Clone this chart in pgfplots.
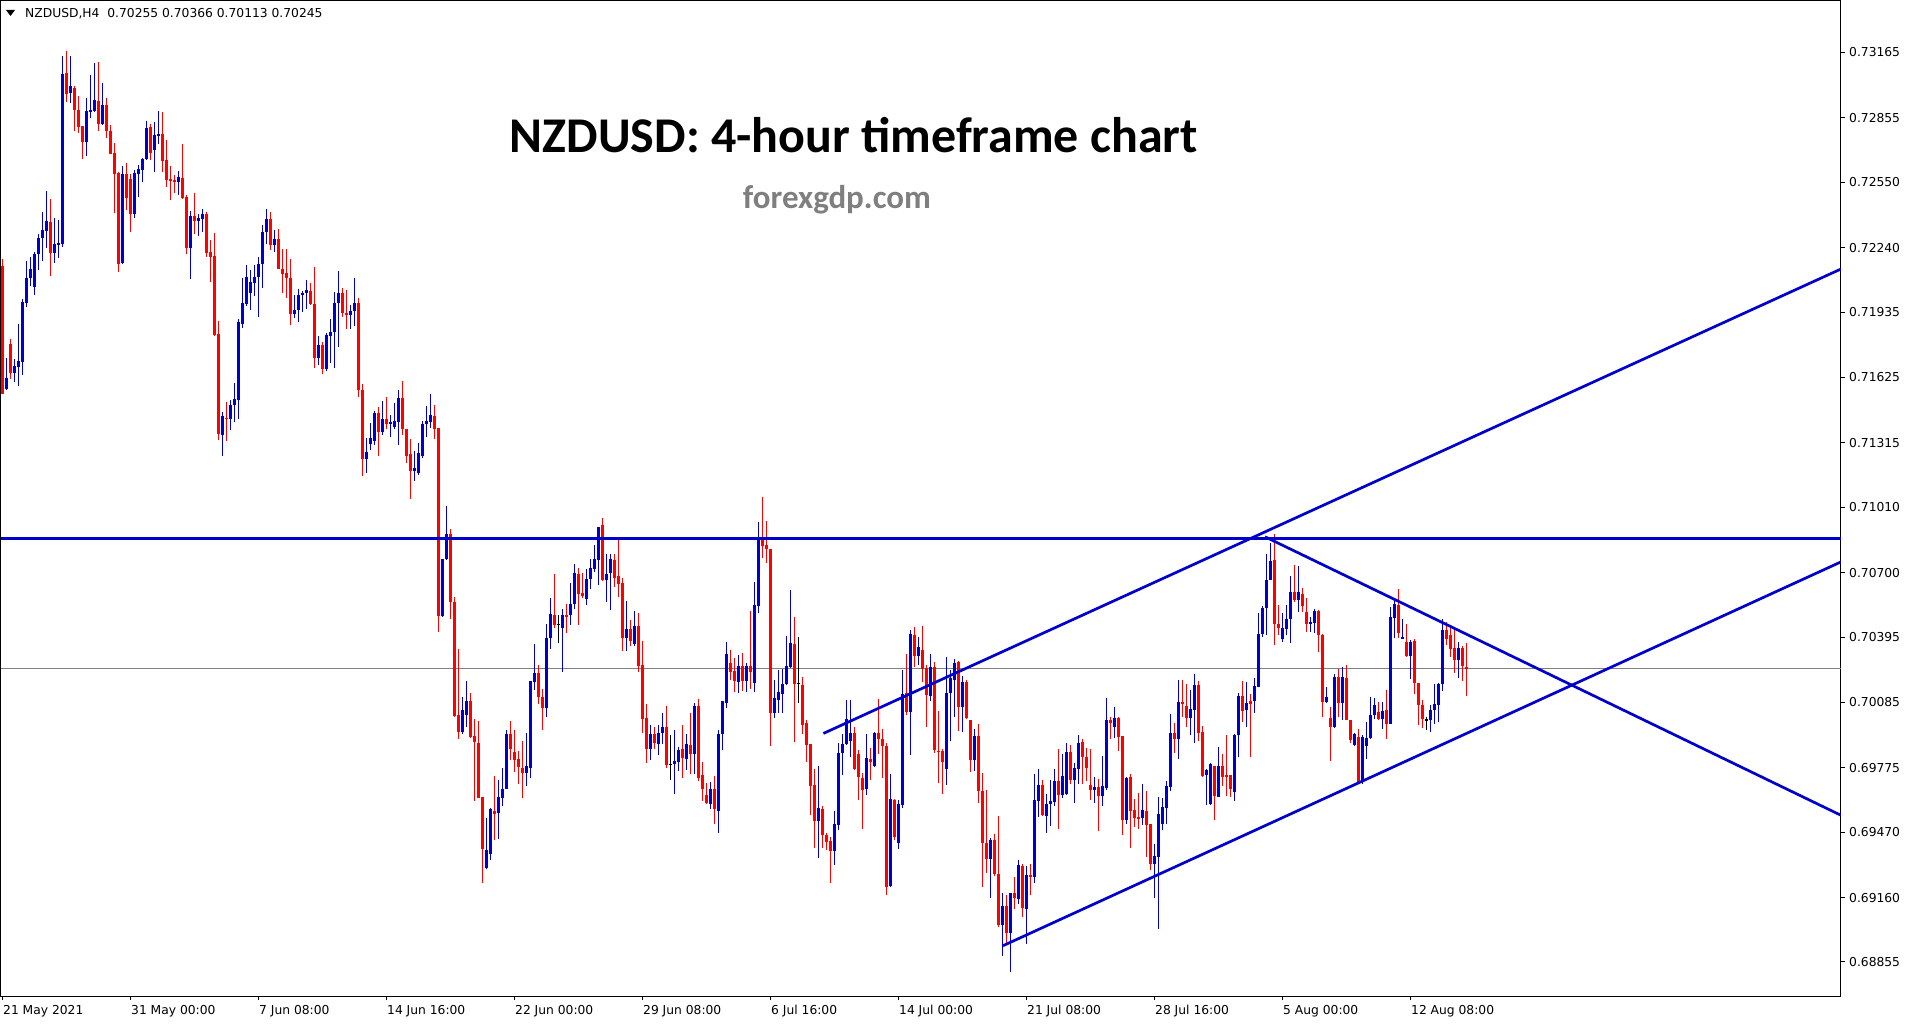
\documentclass[border=0pt]{standalone}
\usepackage{fontspec}
\usepackage{pgfplots}
\usepackage{pgfplotstable}
\pgfplotsset{compat=1.18}
\setmainfont{DejaVu Sans}
\newfontfamily\carlito{Carlito}
\definecolor{mtblue}{RGB}{0,0,205}
\definecolor{mtred}{RGB}{255,0,0}
\definecolor{bidgray}{RGB}{128,128,128}
\definecolor{sitegray}{RGB}{127,127,127}
\newcommand\lbl{\fontsize{12.3}{14}\selectfont}

% H4 candles: index, open, high, low, close
\pgfplotstableread{
k o h l c
0 0.72153 0.72189 0.71546 0.71549
1 0.71571 0.71715 0.71565 0.71625
2 0.71783 0.71807 0.71617 0.71647
3 0.71647 0.71712 0.71605 0.71679
4 0.71676 0.71881 0.71586 0.71703
5 0.71699 0.71996 0.71636 0.71984
6 0.71979 0.72178 0.71960 0.72099
7 0.72099 0.72194 0.72060 0.72142
8 0.72055 0.72218 0.72015 0.72210
9 0.72210 0.72304 0.72134 0.72286
10 0.72286 0.72409 0.72178 0.72323
11 0.72320 0.72508 0.72237 0.72366
12 0.72361 0.72470 0.72105 0.72216
13 0.72216 0.72380 0.72169 0.72257
14 0.72254 0.72371 0.72192 0.72263
15 0.72260 0.73148 0.72244 0.73066
16 0.73066 0.73172 0.72932 0.72971
17 0.72974 0.73148 0.72927 0.73006
18 0.73000 0.73008 0.72794 0.72895
19 0.72895 0.72959 0.72785 0.72813
20 0.72816 0.72818 0.72662 0.72742
21 0.72742 0.72948 0.72674 0.72887
22 0.72884 0.73058 0.72856 0.72892
23 0.72887 0.73117 0.72883 0.72940
24 0.72935 0.73120 0.72794 0.72829
25 0.72829 0.73022 0.72821 0.72916
26 0.72916 0.72952 0.72761 0.72794
27 0.72793 0.72821 0.72683 0.72685
28 0.72687 0.72737 0.72402 0.72590
29 0.72595 0.72600 0.72126 0.72165
30 0.72169 0.72627 0.72166 0.72589
31 0.72589 0.72641 0.72418 0.72477
32 0.72565 0.72592 0.72316 0.72401
33 0.72401 0.72608 0.72379 0.72594
34 0.72589 0.72632 0.72481 0.72613
35 0.72609 0.72665 0.72553 0.72663
36 0.72660 0.72842 0.72655 0.72810
37 0.72810 0.72826 0.72655 0.72690
38 0.72703 0.72837 0.72600 0.72774
39 0.72769 0.72887 0.72733 0.72778
40 0.72778 0.72884 0.72597 0.72652
41 0.72655 0.72750 0.72529 0.72560
42 0.72565 0.72627 0.72466 0.72556
43 0.72560 0.72584 0.72500 0.72553
44 0.72553 0.72605 0.72489 0.72575
45 0.72570 0.72731 0.72472 0.72477
46 0.72481 0.72489 0.72213 0.72238
47 0.72238 0.72413 0.72091 0.72391
48 0.72390 0.72500 0.72308 0.72366
49 0.72366 0.72402 0.72295 0.72382
50 0.72376 0.72423 0.72314 0.72401
51 0.72401 0.72410 0.72197 0.72216
52 0.72219 0.72276 0.72079 0.72197
53 0.72200 0.72311 0.71823 0.71826
54 0.71830 0.71892 0.71328 0.71356
55 0.71355 0.71461 0.71255 0.71442
56 0.71435 0.71507 0.71326 0.71429
57 0.71429 0.71516 0.71374 0.71496
58 0.71496 0.71598 0.71414 0.71522
59 0.71518 0.71903 0.71431 0.71888
60 0.71881 0.72095 0.71860 0.71977
61 0.71973 0.72158 0.71964 0.72103
62 0.72027 0.72138 0.71947 0.72077
63 0.72073 0.72160 0.72012 0.72103
64 0.72103 0.72197 0.71914 0.72164
65 0.72164 0.72349 0.72051 0.72314
66 0.72314 0.72425 0.72260 0.72378
67 0.72378 0.72412 0.72230 0.72256
68 0.72256 0.72327 0.72219 0.72284
69 0.72284 0.72327 0.72138 0.72142
70 0.72142 0.72236 0.72029 0.72116
71 0.72121 0.72236 0.72001 0.72095
72 0.72095 0.72186 0.71875 0.71925
73 0.71925 0.72016 0.71907 0.71947
74 0.71947 0.72042 0.71886 0.72016
75 0.72016 0.72038 0.71936 0.72029
76 0.72027 0.72088 0.71951 0.72040
77 0.72034 0.72073 0.71968 0.71973
78 0.71973 0.72147 0.71668 0.71718
79 0.71718 0.71820 0.71686 0.71779
80 0.71779 0.71794 0.71642 0.71664
81 0.71664 0.71834 0.71657 0.71827
82 0.71823 0.71903 0.71692 0.71844
83 0.71842 0.72034 0.71670 0.71981
84 0.71981 0.72129 0.71768 0.72027
85 0.72027 0.72049 0.71914 0.71931
86 0.71931 0.72040 0.71855 0.71921
87 0.71921 0.71968 0.71855 0.71942
88 0.71940 0.72099 0.71870 0.71977
89 0.71977 0.72001 0.71533 0.71566
90 0.71566 0.71594 0.71159 0.71239
91 0.71239 0.71337 0.71172 0.71272
92 0.71311 0.71409 0.71283 0.71337
93 0.71326 0.71468 0.71305 0.71457
94 0.71457 0.71485 0.71255 0.71366
95 0.71366 0.71516 0.71355 0.71429
96 0.71429 0.71533 0.71381 0.71403
97 0.71403 0.71446 0.71342 0.71414
98 0.71392 0.71507 0.71381 0.71420
99 0.71414 0.71566 0.71305 0.71527
100 0.71527 0.71607 0.71355 0.71381
101 0.71381 0.71381 0.71222 0.71255
102 0.71261 0.71333 0.71048 0.71185
103 0.71180 0.71276 0.71137 0.71194
104 0.71172 0.71316 0.71163 0.71268
105 0.71255 0.71420 0.71246 0.71403
106 0.71403 0.71490 0.71342 0.71418
107 0.71414 0.71548 0.71385 0.71446
108 0.71442 0.71494 0.71333 0.71381
109 0.71385 0.71385 0.70419 0.70497
110 0.70497 0.70767 0.70489 0.70767
111 0.70767 0.71015 0.70761 0.70885
112 0.70885 0.70909 0.70482 0.70563
113 0.70563 0.70584 0.70014 0.70021
114 0.70027 0.70341 0.69912 0.69945
115 0.69946 0.70109 0.69938 0.70049
116 0.70028 0.70186 0.69967 0.70091
117 0.70091 0.70128 0.69918 0.69922
118 0.69927 0.70005 0.69619 0.69896
119 0.69891 0.69997 0.69633 0.69633
120 0.69638 0.69638 0.69230 0.69388
121 0.69301 0.69540 0.69298 0.69388
122 0.69365 0.69583 0.69338 0.69580
123 0.69570 0.69736 0.69433 0.69559
124 0.69559 0.69717 0.69437 0.69635
125 0.69635 0.69777 0.69595 0.69677
126 0.69677 0.69957 0.69674 0.69935
127 0.69935 0.69997 0.69812 0.69864
128 0.69851 0.69954 0.69757 0.69812
129 0.69817 0.69856 0.69698 0.69777
130 0.69777 0.69903 0.69633 0.69752
131 0.69752 0.69941 0.69690 0.69783
132 0.69775 0.70186 0.69728 0.70186
133 0.70183 0.70362 0.70144 0.70227
134 0.70227 0.70262 0.70077 0.70112
135 0.70112 0.70152 0.69957 0.70060
136 0.70060 0.70456 0.70017 0.70393
137 0.70392 0.70581 0.70338 0.70502
138 0.70502 0.70693 0.70439 0.70452
139 0.70455 0.70499 0.70368 0.70455
140 0.70439 0.70528 0.70230 0.70502
141 0.70502 0.70551 0.70415 0.70491
142 0.70499 0.70652 0.70452 0.70554
143 0.70551 0.70741 0.70528 0.70697
144 0.70697 0.70720 0.70452 0.70602
145 0.70602 0.70700 0.70578 0.70589
146 0.70575 0.70717 0.70547 0.70670
147 0.70668 0.70768 0.70622 0.70720
148 0.70717 0.70831 0.70704 0.70765
149 0.70760 0.70918 0.70641 0.70918
150 0.70926 0.70960 0.70660 0.70668
151 0.70668 0.70788 0.70562 0.70693
152 0.70697 0.70788 0.70523 0.70765
153 0.70760 0.70788 0.70633 0.70676
154 0.70684 0.70862 0.70586 0.70646
155 0.70652 0.70676 0.70330 0.70392
156 0.70392 0.70567 0.70330 0.70433
157 0.70433 0.70475 0.70354 0.70377
158 0.70360 0.70518 0.70354 0.70449
159 0.70449 0.70510 0.70230 0.70259
160 0.70262 0.70376 0.69938 0.70006
161 0.70012 0.70077 0.69799 0.69864
162 0.69864 0.69978 0.69812 0.69935
163 0.69935 0.69970 0.69862 0.69891
164 0.69888 0.69978 0.69836 0.69943
165 0.69941 0.70038 0.69891 0.69970
166 0.69970 0.70068 0.69777 0.69788
167 0.69791 0.69930 0.69717 0.69791
168 0.69791 0.69957 0.69651 0.69809
169 0.69804 0.69875 0.69760 0.69859
170 0.69862 0.69978 0.69728 0.69820
171 0.69820 0.69935 0.69768 0.69888
172 0.69883 0.70036 0.69749 0.69840
173 0.69840 0.70084 0.69746 0.70068
174 0.70068 0.70104 0.69712 0.69725
175 0.69741 0.69804 0.69619 0.69678
176 0.69646 0.69706 0.69606 0.69610
177 0.69606 0.69706 0.69580 0.69678
178 0.69674 0.69736 0.69512 0.69578
179 0.69572 0.69954 0.69469 0.69938
180 0.69938 0.70091 0.69862 0.70091
181 0.70084 0.70370 0.70057 0.70314
182 0.70273 0.70333 0.70194 0.70230
183 0.70235 0.70294 0.70136 0.70188
184 0.70183 0.70309 0.70131 0.70259
185 0.70259 0.70321 0.70140 0.70188
186 0.70188 0.70273 0.70136 0.70259
187 0.70259 0.70518 0.70148 0.70230
188 0.70178 0.70657 0.70136 0.70547
189 0.70542 0.70941 0.70510 0.70862
190 0.70862 0.71060 0.70771 0.70828
191 0.70831 0.70946 0.70747 0.70812
192 0.70812 0.70812 0.69880 0.70036
193 0.70036 0.70191 0.70012 0.70104
194 0.70096 0.70238 0.70036 0.70136
195 0.70128 0.70242 0.70036 0.70175
196 0.70172 0.70401 0.70167 0.70257
197 0.70254 0.70618 0.70246 0.70365
198 0.70362 0.70491 0.69896 0.70172
199 0.70175 0.70396 0.70080 0.70175
200 0.70167 0.70207 0.69933 0.69981
201 0.69986 0.70001 0.69804 0.69883
202 0.69886 0.69886 0.69551 0.69690
203 0.69693 0.69768 0.69396 0.69524
204 0.69524 0.69783 0.69349 0.69583
205 0.69583 0.69594 0.69396 0.69461
206 0.69456 0.69467 0.69385 0.69425
207 0.69428 0.69448 0.69230 0.69382
208 0.69382 0.69570 0.69317 0.69507
209 0.69507 0.69891 0.69480 0.69848
210 0.69848 0.69935 0.69741 0.69891
211 0.69888 0.70096 0.69883 0.70005
212 0.69903 0.70096 0.69824 0.69943
213 0.69943 0.69970 0.69768 0.69772
214 0.69840 0.69862 0.69625 0.69730
215 0.69730 0.69749 0.69488 0.69673
216 0.69673 0.69935 0.69646 0.69820
217 0.69815 0.69870 0.69717 0.69804
218 0.69783 0.69946 0.69780 0.69943
219 0.69943 0.70101 0.69840 0.69911
220 0.69911 0.69962 0.69728 0.69880
221 0.69878 0.69891 0.69172 0.69211
222 0.69214 0.69745 0.69211 0.69630
223 0.69625 0.69630 0.69433 0.69448
224 0.69420 0.69625 0.69393 0.69603
225 0.69598 0.70238 0.69583 0.70128
226 0.70128 0.70317 0.70025 0.70041
227 0.70041 0.70428 0.69836 0.70409
228 0.70404 0.70444 0.70254 0.70306
229 0.70306 0.70396 0.70262 0.70349
230 0.70333 0.70446 0.70182 0.70246
231 0.70250 0.70261 0.69969 0.70119
232 0.70116 0.70317 0.70092 0.70253
233 0.70253 0.70277 0.69846 0.69858
234 0.69858 0.70043 0.69704 0.69854
235 0.69855 0.69862 0.69650 0.69803
236 0.69768 0.70298 0.69696 0.70132
237 0.70130 0.70241 0.69903 0.70203
238 0.70195 0.70293 0.70016 0.70274
239 0.70280 0.70280 0.69950 0.70064
240 0.70064 0.70211 0.69945 0.70185
241 0.70185 0.70195 0.70008 0.70012
242 0.70001 0.70004 0.69756 0.69814
243 0.69814 0.69958 0.69760 0.69925
244 0.69925 0.69982 0.69609 0.69666
245 0.69666 0.69748 0.69211 0.69419
246 0.69421 0.69672 0.69277 0.69345
247 0.69345 0.69444 0.69160 0.69432
248 0.69435 0.69460 0.69261 0.69274
249 0.69274 0.69546 0.69021 0.69029
250 0.69029 0.69182 0.68884 0.69119
251 0.69119 0.69171 0.68945 0.68993
252 0.68993 0.69184 0.68808 0.69184
253 0.69184 0.69258 0.69108 0.69158
254 0.69152 0.69337 0.69132 0.69313
255 0.69313 0.69321 0.69068 0.69111
256 0.69108 0.69309 0.68942 0.69266
257 0.69266 0.69318 0.69171 0.69261
258 0.69258 0.69748 0.69230 0.69625
259 0.69621 0.69772 0.69542 0.69693
260 0.69693 0.69716 0.69546 0.69550
261 0.69547 0.69653 0.69468 0.69606
262 0.69603 0.69716 0.69500 0.69618
263 0.69613 0.69768 0.69593 0.69713
264 0.69713 0.69863 0.69487 0.69645
265 0.69645 0.69843 0.69634 0.69735
266 0.69650 0.69893 0.69645 0.69851
267 0.69851 0.69887 0.69700 0.69716
268 0.69716 0.69800 0.69609 0.69775
269 0.69768 0.69930 0.69700 0.69893
270 0.69898 0.69914 0.69700 0.69827
271 0.69830 0.69871 0.69713 0.69775
272 0.69693 0.69863 0.69625 0.69669
273 0.69669 0.69732 0.69606 0.69685
274 0.69685 0.69724 0.69476 0.69642
275 0.69642 0.69832 0.69595 0.69688
276 0.69681 0.70106 0.69669 0.70001
277 0.70004 0.70016 0.69911 0.69988
278 0.69969 0.70064 0.69918 0.70012
279 0.70012 0.70016 0.69858 0.69922
280 0.69926 0.69926 0.69456 0.69527
281 0.69527 0.69732 0.69511 0.69727
282 0.69735 0.69748 0.69397 0.69574
283 0.69574 0.69626 0.69495 0.69539
284 0.69542 0.69658 0.69487 0.69534
285 0.69539 0.69697 0.69503 0.69574
286 0.69571 0.69669 0.69356 0.69506
287 0.69511 0.69511 0.69293 0.69318
288 0.69318 0.69416 0.69160 0.69357
289 0.69353 0.69640 0.69013 0.69555
290 0.69511 0.69634 0.69479 0.69590
291 0.69586 0.69716 0.69511 0.69688
292 0.69685 0.70032 0.69666 0.69941
293 0.69941 0.69990 0.69847 0.69914
294 0.69914 0.70191 0.69819 0.70088
295 0.70088 0.70191 0.70017 0.70077
296 0.70067 0.70175 0.69969 0.70012
297 0.70012 0.70146 0.69930 0.70056
298 0.70052 0.70219 0.69894 0.70167
299 0.70167 0.70187 0.69903 0.69941
300 0.69943 0.69977 0.69732 0.69736
301 0.69740 0.69772 0.69598 0.69767
302 0.69603 0.69799 0.69598 0.69796
303 0.69783 0.69783 0.69530 0.69641
304 0.69638 0.69871 0.69634 0.69783
305 0.69783 0.69843 0.69688 0.69732
306 0.69740 0.69933 0.69642 0.69735
307 0.69740 0.69740 0.69638 0.69677
308 0.69661 0.69938 0.69619 0.69930
309 0.69930 0.70131 0.69827 0.70115
310 0.70115 0.70187 0.69993 0.70048
311 0.70048 0.70183 0.69969 0.70083
312 0.70093 0.70127 0.69827 0.70080
313 0.70091 0.70199 0.70036 0.70162
314 0.70159 0.70510 0.70159 0.70409
315 0.70409 0.70541 0.70396 0.70535
316 0.70535 0.70791 0.70404 0.70668
317 0.70668 0.70842 0.70665 0.70759
318 0.70759 0.70886 0.70357 0.70459
319 0.70459 0.70546 0.70404 0.70440
320 0.70385 0.70507 0.70369 0.70436
321 0.70432 0.70546 0.70404 0.70480
322 0.70480 0.70684 0.70368 0.70609
323 0.70609 0.70736 0.70562 0.70570
324 0.70570 0.70731 0.70515 0.70609
325 0.70598 0.70630 0.70515 0.70543
326 0.70515 0.70578 0.70420 0.70459
327 0.70459 0.70491 0.70420 0.70467
328 0.70462 0.70530 0.70415 0.70519
329 0.70519 0.70525 0.70325 0.70404
330 0.70404 0.70409 0.70017 0.70088
331 0.70088 0.70159 0.70083 0.70112
332 0.70009 0.70064 0.69808 0.69969
333 0.69969 0.70219 0.69962 0.70206
334 0.70206 0.70246 0.70017 0.70083
335 0.70083 0.70254 0.70004 0.70206
336 0.70202 0.70266 0.70001 0.70004
337 0.70004 0.70004 0.69894 0.69909
338 0.69887 0.69941 0.69878 0.69938
339 0.69922 0.69957 0.69701 0.69709
340 0.69709 0.69930 0.69701 0.69922
341 0.69878 0.69993 0.69819 0.69919
342 0.69919 0.70112 0.69914 0.70028
343 0.70028 0.70108 0.70009 0.70072
344 0.70041 0.70088 0.70004 0.70009
345 0.70009 0.70088 0.69962 0.70048
346 0.70048 0.70143 0.69914 0.69982
347 0.69982 0.70541 0.69982 0.70488
348 0.70488 0.70570 0.70388 0.70551
349 0.70546 0.70622 0.70388 0.70412
350 0.70388 0.70478 0.70385 0.70396
351 0.70372 0.70459 0.70301 0.70304
352 0.70304 0.70383 0.70199 0.70372
353 0.70377 0.70385 0.70127 0.70175
354 0.70178 0.70178 0.69977 0.70072
355 0.70072 0.70096 0.69962 0.70009
356 0.70004 0.70017 0.69954 0.70004
357 0.70001 0.70072 0.69946 0.70048
358 0.70048 0.70172 0.69982 0.70077
359 0.70072 0.70178 0.69990 0.70175
360 0.70175 0.70483 0.70140 0.70428
361 0.70428 0.70467 0.70357 0.70385
362 0.70404 0.70443 0.70301 0.70341
363 0.70341 0.70428 0.70225 0.70285
364 0.70285 0.70372 0.70199 0.70341
365 0.70344 0.70352 0.70187 0.70258
366 0.70255 0.70366 0.70113 0.70245
}\candles

% body size in points (1e-5): positive = bullish, negative = bearish, 0 = doji
\pgfplotsset{
  bull/.style={restrict expr to domain={(\thisrow{c}-\thisrow{o})*100000}{0.5:100000}},
  bear/.style={restrict expr to domain={(\thisrow{c}-\thisrow{o})*100000}{-100000:-0.5}},
  doji/.style={restrict expr to domain={(\thisrow{c}-\thisrow{o})*100000}{-0.5:0.5}},
  wick/.style={draw=none, no markers,
    error bars/y dir=both, error bars/y explicit, error bars/error mark=none,
    error bars/error bar style={line width=1pt, draw=#1}},
  body/.style={draw=none, no markers,
    error bars/y dir=both, error bars/y explicit, error bars/error mark=none,
    error bars/error bar style={line width=3pt, draw=#1}},
}

\begin{document}
\begin{tikzpicture}
\begin{axis}[
  name=ax,
  scale only axis,
  width=1840pt, height=995pt,
  xmin=-0.5, xmax=459.5,
  ymin=0.686937, ymax=0.734091,
  axis line style={line width=1pt, black},
  tick align=outside,
  major tick length=4pt,
  tick style={line width=1pt, black},
  xtick pos=bottom,
  ytick pos=right,
  yticklabel pos=right,
  xtick={0,32,...,352},
  xticklabels={21 May 2021, 31 May 00:00, 7 Jun 08:00, 14 Jun 16:00,
    22 Jun 00:00, 29 Jun 08:00, 6 Jul 16:00, 14 Jul 00:00,
    21 Jul 08:00, 28 Jul 16:00, 5 Aug 00:00, 12 Aug 08:00},
  ytick={0.73165,0.72855,0.72550,0.72240,0.71935,0.71625,0.71315,0.71010,
    0.70700,0.70395,0.70085,0.69775,0.69470,0.69160,0.68855},
  yticklabels={0.73165,0.72855,0.72550,0.72240,0.71935,0.71625,0.71315,0.71010,
    0.70700,0.70395,0.70085,0.69775,0.69470,0.69160,0.68855},
  xticklabel style={anchor=north west, inner sep=0pt, font=\lbl, yshift=-5pt},
  yticklabel style={anchor=west, inner sep=0pt, font=\lbl, xshift=4pt},
  /pgf/number format/assume math mode=true,
  clip=true,
]
% bid line
\addplot[bidgray, line width=1pt] coordinates {(-0.5,0.70245) (459.5,0.70245)};

% bullish candles
\addplot[bull, wick=mtblue]
  table[x=k, y expr={(\thisrow{h}+\thisrow{l})/2}, y error expr={(\thisrow{h}-\thisrow{l})/2}] {\candles};
\addplot[bull, body=mtblue]
  table[x=k, y expr={(\thisrow{o}+\thisrow{c})/2}, y error expr={max(abs(\thisrow{c}-\thisrow{o})/2,0.000012)}] {\candles};
% bearish candles
\addplot[bear, wick=mtred]
  table[x=k, y expr={(\thisrow{h}+\thisrow{l})/2}, y error expr={(\thisrow{h}-\thisrow{l})/2}] {\candles};
\addplot[bear, body=mtred]
  table[x=k, y expr={(\thisrow{o}+\thisrow{c})/2}, y error expr={max(abs(\thisrow{c}-\thisrow{o})/2,0.000012)}] {\candles};
% doji
\addplot[doji, wick=black]
  table[x=k, y expr={(\thisrow{h}+\thisrow{l})/2}, y error expr={(\thisrow{h}-\thisrow{l})/2}] {\candles};
\addplot[doji, body=black]
  table[x=k, y=o, y error expr={0.000012}] {\candles};

% resistance and trend lines
\addplot[mtblue, line width=2.7pt] coordinates {(-0.5,0.70863) (459.5,0.70863)};
\addplot[mtblue, line width=2.7pt] coordinates {(205.1,0.69938) (459.5,0.72139)};
\addplot[mtblue, line width=2.7pt] coordinates {(250.0,0.68932) (459.5,0.70751)};
\addplot[mtblue, line width=2.7pt] coordinates {(315.5,0.70870) (459.5,0.69550)};

% price boxes on the scale
\node[fill=mtblue, text=white, anchor=west, inner xsep=5pt, inner ysep=0pt,
  minimum height=15pt, xshift=2pt, font=\lbl] at (axis cs:459.5,0.70863) {0.70863};
\node[fill=black, text=white, anchor=west, inner xsep=5pt, inner ysep=0pt,
  minimum height=15pt, xshift=2pt, font=\lbl] at (axis cs:459.5,0.70245) {0.70245};
\end{axis}

% header
\fill[black] ([shift={(5pt,-9pt)}]ax.north west) -- ++(9pt,0) -- ++(-4.5pt,-6pt) -- cycle;
\node[anchor=base west, inner sep=0pt, font=\lbl] at ([shift={(24pt,-17pt)}]ax.north west)
  {NZDUSD,H4\ \ 0.70255 0.70366 0.70113 0.70245};

% titles
\node[anchor=base, inner sep=0pt, font={\carlito\bfseries\fontsize{50}{60}\selectfont}]
  at ([shift={(853pt,-152pt)}]ax.north west) {NZDUSD: 4-hour timeframe chart};
\node[anchor=base, inner sep=0pt, text=sitegray, font={\carlito\bfseries\fontsize{33}{40}\selectfont}]
  at ([shift={(836pt,-208pt)}]ax.north west) {forexgdp.com};

\pgfresetboundingbox
\path ([shift={(-1pt,-27pt)}]ax.south west) rectangle ++(1913pt,1023pt);
\end{tikzpicture}
\end{document}
